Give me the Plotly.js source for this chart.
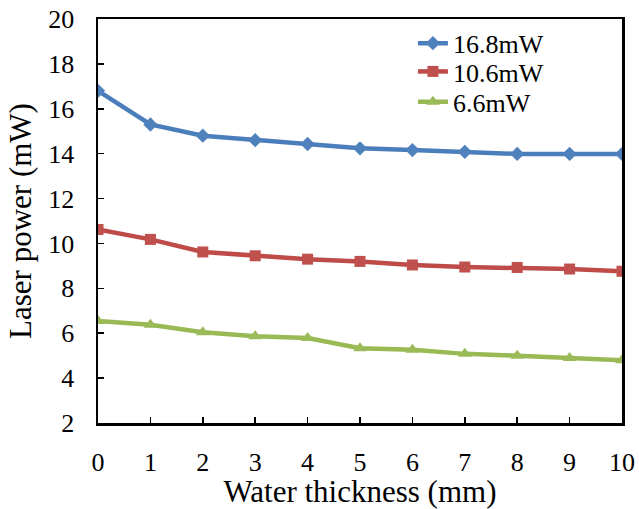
<!DOCTYPE html>
<html>
<head>
<meta charset="utf-8">
<script src="https://cdn.plot.ly/plotly-3.0.1.min.js"></script>
<style>html,body{margin:0;padding:0;background:#fff;}#chart{width:639px;height:509px;}</style>
</head>
<body>
<div id="chart"></div>
<script>
var thickness = [0, 1, 2, 3, 4, 5, 6, 7, 8, 9, 10];
var power168 = [16.8, 15.3, 14.8, 14.6, 14.43, 14.24, 14.16, 14.08, 13.99, 13.99, 13.99];
var power106 = [10.62, 10.18, 9.62, 9.45, 9.3, 9.2, 9.04, 8.95, 8.93, 8.86, 8.76];
var power66 = [6.55, 6.38, 6.04, 5.87, 5.79, 5.33, 5.26, 5.08, 5.0, 4.9, 4.8];
var seriesNames = ["16.8mW", "10.6mW", "6.6mW"];
var xTicks = [0, 1, 2, 3, 4, 5, 6, 7, 8, 9, 10];
var yTicks = [2, 4, 6, 8, 10, 12, 14, 16, 18, 20];

var font = "'Liberation Serif', 'Times New Roman', serif";
var traces = [
  {x: thickness, y: power168, name: seriesNames[0], mode: "lines+markers", legend: "legend",
   line: {color: "#4A7EBB", width: 4.5}, marker: {symbol: "diamond", size: 11, color: "#4F81BD"}},
  {x: thickness, y: power106, name: seriesNames[1], mode: "lines+markers", legend: "legend2",
   line: {color: "#BE4B48", width: 4.5}, marker: {symbol: "square", size: 11, color: "#C0504D"}},
  {x: thickness, y: power66, name: seriesNames[2], mode: "lines+markers", legend: "legend3",
   line: {color: "#98B954", width: 4.5}, marker: {symbol: "triangle-up", size: 12, color: "#9BBB59"}}
];
function leg(y) {
  return {x: 0.601, y: y, xanchor: "left", yanchor: "middle", bgcolor: "rgba(0,0,0,0)",
          font: {family: font, size: 26, color: "#000"}, tracegroupgap: 0};
}
var layout = {
  width: 639, height: 509,
  margin: {l: 97.5, r: 17, t: 19, b: 86},
  paper_bgcolor: "#fff", plot_bgcolor: "#fff",
  font: {family: font, size: 25, color: "#000"},
  showlegend: true,
  legend: leg(0.940),
  legend2: leg(0.870),
  legend3: leg(0.795),
  xaxis: {range: [0, 10], tickvals: xTicks, ticktext: xTicks.map(String),
          ticks: "inside", ticklen: 6, tickwidth: 1.5, tickcolor: "#000",
          showline: true, linecolor: "#000", linewidth: 2.5, mirror: true,
          showgrid: false, zeroline: false, ticklabelstandoff: 14,
          tickfont: {family: font, size: 26, color: "#000"},
          title: {text: "Water thickness (mm)", font: {family: font, size: 31, color: "#000"}, standoff: 8}},
  yaxis: {range: [2, 20], tickvals: yTicks, ticktext: yTicks.map(String),
          ticks: "inside", ticklen: 6, tickwidth: 1.5, tickcolor: "#000",
          showline: true, linecolor: "#000", linewidth: 2.5, mirror: true,
          showgrid: false, zeroline: false, ticklabelstandoff: 16,
          tickfont: {family: font, size: 26, color: "#000"},
          title: {text: "Laser power (mW)", font: {family: font, size: 31, color: "#000"}, standoff: 8}}
};
Plotly.newPlot("chart", traces, layout, {displayModeBar: false, staticPlot: true});
</script>
</body>
</html>
